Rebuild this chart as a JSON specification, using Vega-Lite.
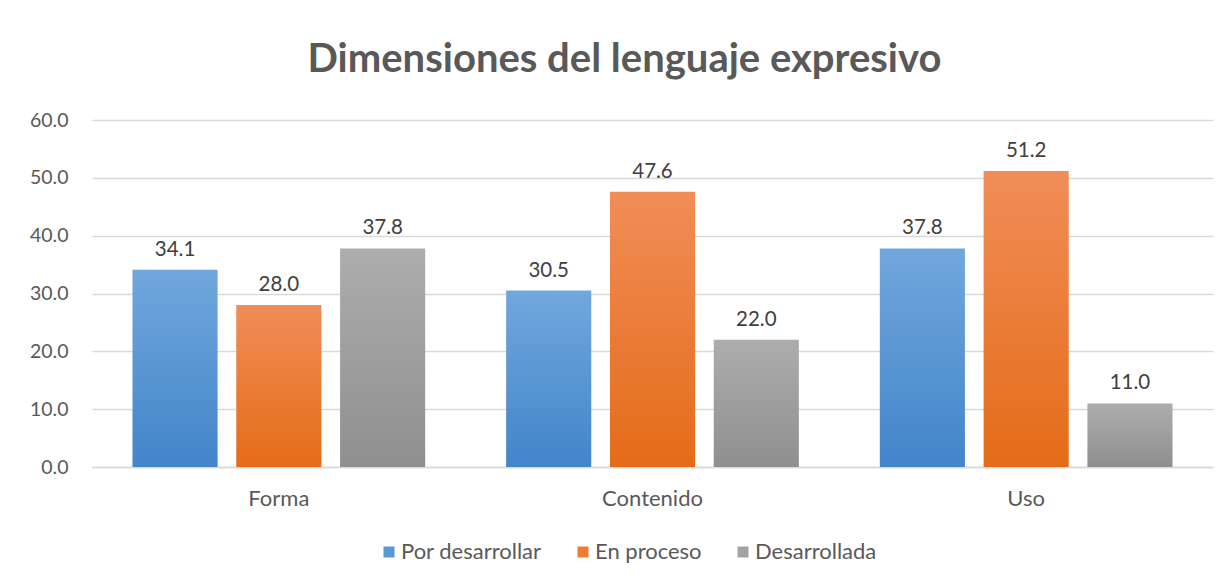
{
  "$schema": "https://vega.github.io/schema/vega-lite/v6.json",
  "autosize": {"type": "none"},
  "padding": {"left": 92, "top": 120, "right": 19, "bottom": 116},
  "width": 1121,
  "height": 347,
  "background": "white",
  "title": {
    "text": "Dimensiones del lenguaje expresivo",
    "fontSize": 40,
    "fontWeight": "bold",
    "font": "Lato",
    "color": "#595959",
    "anchor": "middle",
    "frame": "group",
    "dx": -28,
    "offset": 30
  },
  "data": {
    "values": [
      {"dimension": "Forma", "nivel": "Por desarrollar", "valor": 34.1},
      {"dimension": "Forma", "nivel": "En proceso", "valor": 28.0},
      {"dimension": "Forma", "nivel": "Desarrollada", "valor": 37.8},
      {"dimension": "Contenido", "nivel": "Por desarrollar", "valor": 30.5},
      {"dimension": "Contenido", "nivel": "En proceso", "valor": 47.6},
      {"dimension": "Contenido", "nivel": "Desarrollada", "valor": 22.0},
      {"dimension": "Uso", "nivel": "Por desarrollar", "valor": 37.8},
      {"dimension": "Uso", "nivel": "En proceso", "valor": 51.2},
      {"dimension": "Uso", "nivel": "Desarrollada", "valor": 11.0}
    ]
  },
  "encoding": {
    "x": {
      "field": "dimension",
      "type": "nominal",
      "sort": ["Forma", "Contenido", "Uso"],
      "scale": {"paddingInner": 0, "paddingOuter": 0},
      "axis": {
        "title": null,
        "labelAngle": 0,
        "ticks": false,
        "domain": true,
        "domainColor": "#d9d9d9",
        "domainWidth": 1.5,
        "labelPadding": 21,
        "labelFontSize": 22,
        "labelColor": "#595959",
        "labelFont": "Lato"
      }
    },
    "xOffset": {
      "field": "nivel",
      "type": "nominal",
      "sort": ["Por desarrollar", "En proceso", "Desarrollada"],
      "scale": {"domain": ["Por desarrollar", "En proceso", "Desarrollada"], "paddingInner": 0.18, "paddingOuter": 0.39}
    },
    "y": {
      "field": "valor",
      "type": "quantitative",
      "scale": {"domain": [0, 60], "nice": false},
      "axis": {
        "title": null,
        "values": [0, 10, 20, 30, 40, 50, 60],
        "format": ".1f",
        "domain": false,
        "ticks": false,
        "grid": true,
        "gridColor": "#d9d9d9",
        "gridWidth": 1.5,
        "labelPadding": 24,
        "labelFontSize": 19.5,
        "labelColor": "#595959",
        "labelFont": "Lato"
      }
    }
  },
  "layer": [
    {
      "transform": [{"filter": "datum.nivel === 'Por desarrollar'"}],
      "mark": {"type": "bar", "color": {"gradient": "linear", "x1": 0, "y1": 0, "x2": 0, "y2": 1, "stops": [{"offset": 0, "color": "#71a7dd"}, {"offset": 1, "color": "#4285c9"}]}}
    },
    {
      "transform": [{"filter": "datum.nivel === 'En proceso'"}],
      "mark": {"type": "bar", "color": {"gradient": "linear", "x1": 0, "y1": 0, "x2": 0, "y2": 1, "stops": [{"offset": 0, "color": "#f18d58"}, {"offset": 1, "color": "#e46c18"}]}}
    },
    {
      "transform": [{"filter": "datum.nivel === 'Desarrollada'"}],
      "mark": {"type": "bar", "color": {"gradient": "linear", "x1": 0, "y1": 0, "x2": 0, "y2": 1, "stops": [{"offset": 0, "color": "#adadad"}, {"offset": 1, "color": "#8f8f8f"}]}}
    },
    {
      "mark": {"type": "square", "opacity": 0},
      "encoding": {
        "color": {
          "field": "nivel",
          "type": "nominal",
          "sort": ["Por desarrollar", "En proceso", "Desarrollada"],
          "scale": {
            "domain": ["Por desarrollar", "En proceso", "Desarrollada"],
            "range": ["#5b96d5", "#ee7b32", "#a3a3a3"]
          },
          "legend": {
            "title": null,
            "orient": "none",
            "direction": "horizontal",
            "legendX": 286,
            "legendY": 421,
            "symbolType": "square",
            "symbolSize": 121,
            "symbolOpacity": 1,
            "symbolStrokeWidth": 0,
            "labelFontSize": 22,
            "labelColor": "#595959",
            "labelFont": "Lato",
            "labelOffset": 1,
            "columnPadding": 30
          }
        }
      }
    },
    {
      "mark": {"type": "text", "baseline": "bottom", "dy": -10, "fontSize": 20.5, "font": "Lato", "color": "#404040"},
      "encoding": {
        "text": {"field": "valor", "type": "quantitative", "format": ".1f"}
      }
    }
  ],
  "config": {
    "view": {"stroke": null}
  }
}
